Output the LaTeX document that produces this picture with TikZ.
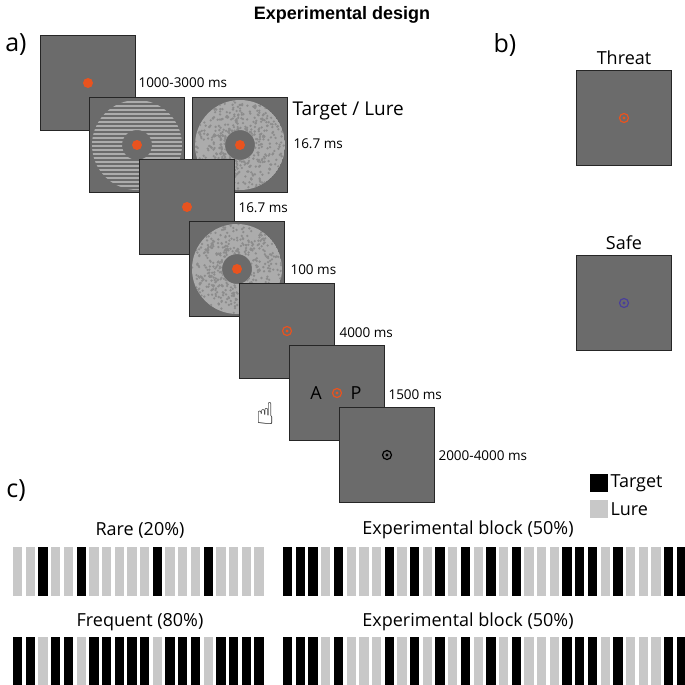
\documentclass[tikz,border=0pt]{standalone}
\usepackage{fontspec}
\setmainfont{Open Sans}
\newfontfamily\titlefont{Liberation Sans}
\usetikzlibrary{positioning}
\definecolor{scrgray}{HTML}{6B6B6B}
\definecolor{fixorange}{HTML}{E8531F}
\definecolor{lure}{HTML}{C8C8C8}
\definecolor{safeblue}{HTML}{4A3F9A}
\tikzset{
  screen/.style={draw=black!85, line width=1.2pt, fill=scrgray, minimum size=95pt, inner sep=0pt},
  dot/.style={circle, fill=fixorange, minimum size=10pt, inner sep=0pt},
  ring/.style={circle, draw=#1, line width=1.2pt, minimum size=9pt, inner sep=0pt},
  timelbl/.style={anchor=west, font=\fontsize{13.5}{15}\selectfont},
  panel/.style={font=\fontsize{25}{27}\selectfont},
  blocklbl/.style={font=\fontsize{18}{20}\selectfont},
  bar/.style={fill=#1, draw=none}
}
\newcommand{\fixring}[2]{% name, colour
  \node[ring=#2] at (#1) {};
  \fill[#2] (#1) circle (1.6pt);
}
\newcommand{\stripes}[1]{%
  \begin{scope}[even odd rule]
    \clip (#1) circle (45pt) (#1) circle (15pt);
    \foreach \k in {-46,-42,...,46}
      \fill[gray!65] ([yshift=\k pt]#1.west) rectangle ([yshift=\k pt+2pt]#1.east);
  \end{scope}
}
\newcommand{\noise}[1]{%
  \begin{scope}[even odd rule]
    \clip (#1) circle (45pt) (#1) circle (15pt);
    \fill[gray!65] (#1) circle (45pt);
    \foreach \k in {1,...,420}{
      \pgfmathsetmacro{\ang}{360*rnd}
      \pgfmathsetmacro{\rad}{15+30*rnd}
      \fill[gray!90] (#1) ++(\ang:\rad pt) circle (1.3pt);
    }
  \end{scope}
}
\begin{document}
\begin{tikzpicture}[x=1pt, y=-1pt]
  \pgfmathsetseed{7}
  \useasboundingbox[fill=white] (0,0) rectangle (685,685);

  \node[font=\titlefont\bfseries\fontsize{18}{20}\selectfont] (title) at (342,15) {Experimental design};
  \node[panel] (pa) at (16,45) {a)};
  \node[panel] (pb) at (505,45) {b)};
  \node[panel] (pc) at (16,491) {c)};

  % a) trial sequence
  \node[screen] (s1) at (88,83) {};
  \node[dot] at (s1) {};
  \node[screen] (s2) at (137,145) {};
  \stripes{s2}
  \node[dot] at (s2) {};
  \node[screen] (s3) at (240,145) {};
  \noise{s3}
  \node[dot] at (s3) {};
  \node[screen] (s4) at (187,207) {};
  \node[dot] at (s4) {};
  \node[screen] (s5) at (237,269) {};
  \noise{s5}
  \node[dot] at (s5) {};
  \node[screen] (s6) at (287,331) {};
  \fixring{s6}{fixorange}
  \node[screen] (s7) at (337,393) {};
  \fixring{s7}{fixorange}
  \node[font=\fontsize{18}{20}\selectfont] at ([xshift=-21pt]s7) {A};
  \node[font=\fontsize{18}{20}\selectfont] at ([xshift=19pt]s7) {P};
  \node[screen] (s8) at (387,455) {};
  \fixring{s8}{black}
  \node[font=\fontspec{DejaVu Sans}\fontsize{30}{30}\selectfont] (hand) at (266,414) {☝};

  \node[timelbl] at (135,83) {1000-3000 ms};
  \node[timelbl, font=\fontsize{19}{21}\selectfont] at (289,111) {Target / Lure};
  \node[timelbl] at (290,144) {16.7 ms};
  \node[timelbl] at (235,208) {16.7 ms};
  \node[timelbl] at (287,270) {100 ms};
  \node[timelbl] at (336,333) {4000 ms};
  \node[timelbl] at (385,395) {1500 ms};
  \node[timelbl] at (435,456) {2000-4000 ms};

  % b) contexts
  \node[screen] (threat) at (624,118) {};
  \fixring{threat}{fixorange}
  \node[blocklbl, above=2pt of threat] {Threat};
  \node[screen] (safe) at (624,303) {};
  \fixring{safe}{safeblue}
  \node[blocklbl, above=2pt of safe] {Safe};

  % c) blocks
  \fill[black] (590,474) rectangle (608,492);
  \node[blocklbl, anchor=west] (ltarget) at (607,483) {Target};
  \fill[lure] (590,500) rectangle (608,518);
  \node[blocklbl, anchor=west] (llure) at (607,509) {Lure};

  \node[blocklbl] at (140,530) {Rare (20\%)};
  \node[blocklbl] at (468,530) {Experimental block (50\%)};
  \node[blocklbl] at (140,622) {Frequent (80\%)};
  \node[blocklbl] at (468,622) {Experimental block (50\%)};

  \foreach \c [count=\i from 0] in {0,0,1,0,0,1,0,0,0,0,0,1,0,0,0,1,0,0,0,0}{
    \ifnum\c=1 \def\col{black}\else\def\col{lure}\fi
    \fill[\col] (13+12.7*\i,547) rectangle +(9.3,49);
  }
  \foreach \c [count=\i from 0] in {1,1,0,1,1,0,1,1,1,1,1,0,1,1,1,0,1,1,1,1}{
    \ifnum\c=1 \def\col{black}\else\def\col{lure}\fi
    \fill[\col] (13+12.7*\i,637) rectangle +(9.3,48);
  }
  \foreach \c [count=\i from 0] in {1,1,1,0,1,0,0,0,1,0,1,0,1,0,1,0,1,0,1,0,0,0,1,1,1,0,1,0,0,0,1,1}{
    \ifnum\c=1 \def\col{black}\else\def\col{lure}\fi
    \fill[\col] (283+12.7*\i,547) rectangle +(9.3,49);
    \fill[\col] (283+12.7*\i,637) rectangle +(9.3,48);
  }
\end{tikzpicture}
\end{document}
